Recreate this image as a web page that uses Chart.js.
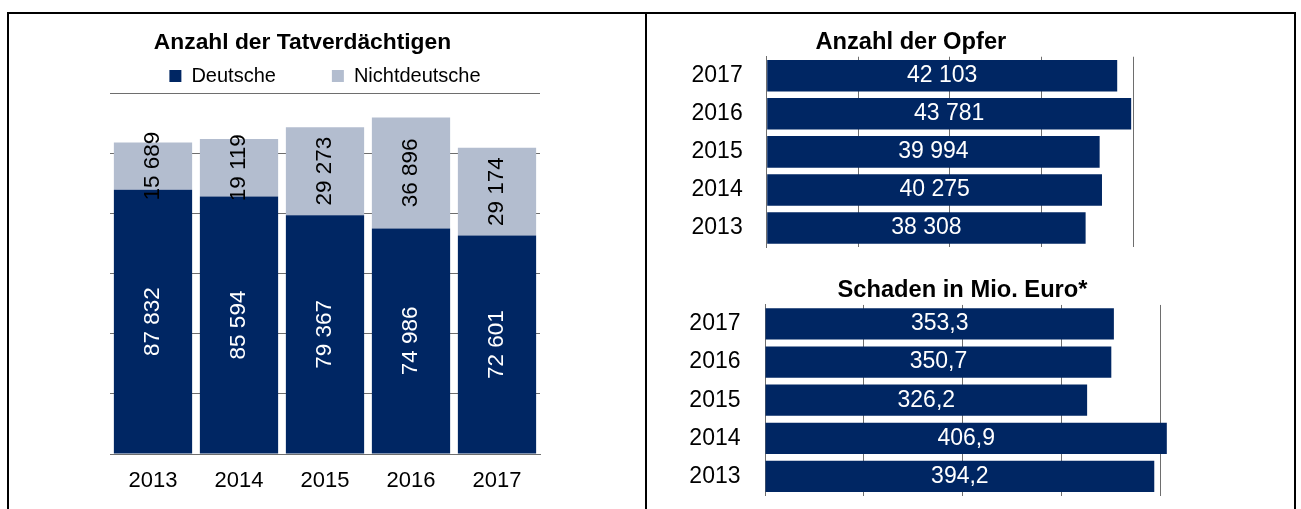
<!DOCTYPE html>
<html lang="de">
<head>
<meta charset="utf-8">
<title>Tatverdächtige, Opfer und Schaden 2013–2017</title>
<script src="https://cdn.jsdelivr.net/npm/chart.js@4.4.1/dist/chart.umd.min.js"></script>
<style>
  html, body { margin: 0; padding: 0; background: #fff; overflow: hidden; }
  body { position: relative; width: 1301px; height: 509px; }
  .frame { position: absolute; left: 7px; top: 12px; width: 1289px; height: 520px; border: 2px solid #000; box-sizing: border-box; }
  .divider { position: absolute; left: 645px; top: 12px; width: 2px; height: 497px; background: #000; }
  canvas { position: absolute; }
  #tvChart { left: 0; top: 0; }
  #opferChart { left: 660px; top: 14px; }
  #schadenChart { left: 660px; top: 262px; }
</style>
</head>
<body>
<div class="frame"></div>
<div class="divider"></div>
<canvas id="tvChart" width="645" height="509"></canvas>
<canvas id="opferChart" width="630" height="271"></canvas>
<canvas id="schadenChart" width="630" height="272"></canvas>

<script>
// Data 2013 - 2017
const years = ['2013', '2014', '2015', '2016', '2017'];
const deutsche = [87832, 85594, 79367, 74986, 72601];
const nichtdeutsche = [15689, 19119, 29273, 36896, 29174];
const opfer = [38308, 40275, 39994, 43781, 42103];
const schaden = [394.2, 406.9, 326.2, 350.7, 353.3];

// axis ranges
const tvMax = 120000, tvStep = 20000;
const opferMax = 44000, opferStep = 11000;
const schadenMax = 400, schadenStep = 100;

const navy = '#002663';
const lightBlue = '#b3bdcf';
const gridGrey = '#6e6e6e';
const fontFamily = '"Liberation Sans", Arial, sans-serif';

Chart.defaults.font.family = fontFamily;
Chart.defaults.color = '#000';
Chart.defaults.animation = false;

// german style numbers: 87 832 and 353,3
function fmtThousands(v) {
    return String(v).replace(/\B(?=(\d{3})+(?!\d))/g, ' ');
}
function fmtDecimal(v) {
    return v.toFixed(1).replace('.', ',');
}

// writes the value into the middle of every bar
const valueLabels = {
    id: 'valueLabels',
    afterDatasetsDraw(chart, args, opts) {
        const ctx = chart.ctx;
        ctx.save();
        ctx.font = opts.font;
        ctx.textAlign = 'center';
        ctx.textBaseline = 'middle';
        chart.data.datasets.forEach((ds, i) => {
            ctx.fillStyle = ds.labelColor;
            chart.getDatasetMeta(i).data.forEach((bar, j) => {
                const p = bar.getProps(['x', 'y', 'base'], true);
                ctx.save();
                if (opts.rotate) {
                    ctx.translate(p.x, (p.y + p.base) / 2);
                    ctx.rotate(-Math.PI / 2);
                } else {
                    ctx.translate((p.x + p.base) / 2, p.y);
                }
                ctx.fillText(ds.labelFormat(ds.data[j]), 0, 0);
                ctx.restore();
            });
        });
        ctx.restore();
    }
};

// left: stacked columns
new Chart(document.getElementById('tvChart'), {
    type: 'bar',
    data: {
        labels: years,
        datasets: [
            { label: 'Deutsche', data: deutsche, backgroundColor: navy, borderWidth: 0, labelColor: '#fff', labelFormat: fmtThousands },
            { label: 'Nichtdeutsche', data: nichtdeutsche, backgroundColor: lightBlue, borderWidth: 0, labelColor: '#000', labelFormat: fmtThousands }
        ]
    },
    options: {
        responsive: false,
        datasets: { bar: { barPercentage: 0.91, categoryPercentage: 1 } },
        layout: { padding: { left: 65, right: 105, top: 0, bottom: 2 } },
        plugins: {
            title: {
                display: true,
                text: 'Anzahl der Tatverdächtigen',
                font: { size: 22.8, weight: 'bold' },
                padding: { top: 29.3, bottom: -46.66 }   // legend is pulled up under the title
            },
            legend: {
                fullSize: false,
                maxHeight: 83,
                labels: { boxWidth: 12, boxHeight: 12, padding: 56, font: { size: 20 } }
            },
            tooltip: { enabled: false },
            valueLabels: { rotate: true, font: '22.5px ' + fontFamily }
        },
        scales: {
            x: {
                stacked: true,
                grid: { display: false, drawTicks: false },
                border: { color: gridGrey },
                ticks: { font: { size: 22 }, padding: 13.3 }
            },
            y: {
                stacked: true,
                min: 0,
                max: tvMax,
                ticks: { display: false, stepSize: tvStep },
                grid: { color: gridGrey, drawTicks: false },
                border: { display: false },
                afterFit: s => { s.width = 45; }
            }
        }
    },
    plugins: [valueLabels]
});

// right top: victims
new Chart(document.getElementById('opferChart'), {
    type: 'bar',
    data: {
        labels: years,
        datasets: [{ label: 'Anzahl der Opfer', data: opfer, backgroundColor: navy, labelColor: '#fff', labelFormat: fmtThousands }]
    },
    options: {
        indexAxis: 'y',
        responsive: false,
        datasets: { bar: { barPercentage: 0.83, categoryPercentage: 1 } },
        layout: { padding: { left: 28.7, right: 157, top: 0, bottom: 38 } },
        plugins: {
            title: {
                display: true,
                text: 'Anzahl der Opfer',
                font: { size: 23.7, weight: 'bold' },
                padding: { top: 14.3, bottom: 0 }
            },
            legend: { display: false },
            tooltip: { enabled: false },
            valueLabels: { font: '23px ' + fontFamily }
        },
        scales: {
            x: {
                min: 0,
                max: opferMax,
                ticks: { display: false, stepSize: opferStep },
                grid: { color: gridGrey, drawTicks: false },
                border: { display: false }
            },
            y: {
                reverse: true,
                grid: { display: false, drawTicks: false },
                border: { color: gridGrey },
                ticks: { font: { size: 23 }, padding: 24 },
                afterFit: s => { s.width = 78; }
            }
        }
    },
    plugins: [valueLabels]
});

// right bottom: damage in million euro
new Chart(document.getElementById('schadenChart'), {
    type: 'bar',
    data: {
        labels: years,
        datasets: [{ label: 'Schaden in Mio. Euro*', data: schaden, backgroundColor: navy, clip: false, labelColor: '#fff', labelFormat: fmtDecimal }]
    },
    options: {
        indexAxis: 'y',
        responsive: false,
        datasets: { bar: { barPercentage: 0.82, categoryPercentage: 1 } },
        layout: { padding: { left: 27, right: 130, top: 0, bottom: 38.5 } },
        plugins: {
            title: {
                display: true,
                fullSize: false,
                text: 'Schaden in Mio. Euro*',
                font: { size: 23.7, weight: 'bold' },
                padding: { top: 14.5, bottom: 0 }
            },
            legend: { display: false },
            tooltip: { enabled: false },
            valueLabels: { font: '23px ' + fontFamily }
        },
        scales: {
            x: {
                min: 0,
                max: schadenMax,
                ticks: { display: false, stepSize: schadenStep },
                grid: { color: gridGrey, drawTicks: false },
                border: { display: false }
            },
            y: {
                reverse: true,
                grid: { display: false, drawTicks: false },
                border: { color: gridGrey },
                ticks: { font: { size: 23 }, padding: 24.5 },
                afterFit: s => { s.width = 78; }
            }
        }
    },
    plugins: [valueLabels]
});
</script>
</body>
</html>
